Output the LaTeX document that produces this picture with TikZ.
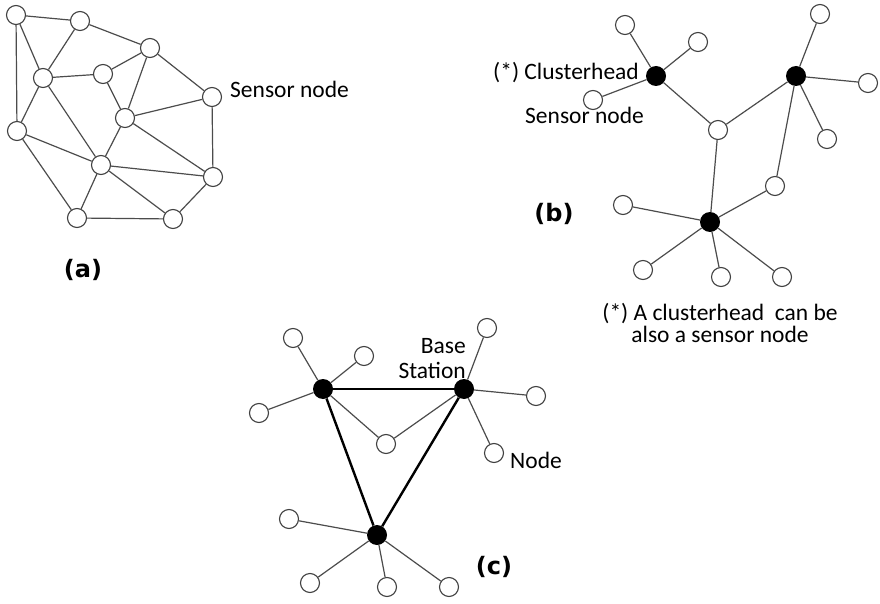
\documentclass[tikz,border=0pt]{standalone}
\usepackage{fontspec}
\setmainfont{Carlito}
\newfontfamily\labfont{DejaVu Sans}
\begin{document}
\begin{tikzpicture}[x=1pt,y=-1pt,
  sn/.style={circle,draw=black!75,line width=1.1pt,fill=white,minimum size=19pt,inner sep=0pt},
  ch/.style={circle,fill=black,minimum size=20pt,inner sep=0pt},
  ln/.style={draw=black!70,line width=1.2pt},
  tk/.style={draw=black,line width=2.4pt},
  lbl/.style={font=\fontsize{23.5}{22}\selectfont,inner sep=0pt},
  pl/.style={font=\labfont\bfseries\fontsize{24}{26}\selectfont,inner sep=0pt}]
\useasboundingbox (0,0) rectangle (880,604);
% ---------- (a) ----------
\node[sn] (a1) at (16,15) {};
\node[sn] (a2) at (80,21) {};
\node[sn] (a3) at (150,48) {};
\node[sn] (a4) at (43,78) {};
\node[sn] (a5) at (103,74) {};
\node[sn] (a6) at (212,97) {};
\node[sn] (a7) at (125,118) {};
\node[sn] (a8) at (17,131) {};
\node[sn] (a9) at (101,165) {};
\node[sn] (a10) at (213,177) {};
\node[sn] (a11) at (77,218) {};
\node[sn] (a12) at (173,219) {};
\foreach \u/\v in {a1/a2,a1/a4,a1/a8,a2/a4,a2/a3,a4/a5,a4/a8,a4/a9,a5/a3,a5/a7,a3/a7,a3/a6,a6/a7,a6/a10,a7/a9,a7/a10,a8/a9,a8/a11,a9/a10,a9/a11,a9/a12,a11/a12,a12/a10}
  \draw[ln] (\u) -- (\v);
\node[lbl,anchor=base west] (ta) at (230,98) {Sensor node};
\node[pl] (la) at (83,270) {(a)};
% ---------- (b) ----------
\node[ch] (h1) at (656,76) {};
\node[ch] (h2) at (796,76) {};
\node[ch] (h3) at (710,222) {};
\node[sn] (b1) at (625,25) {};
\node[sn] (b2) at (698,42) {};
\node[sn] (b3) at (593,100) {};
\node[sn] (b4) at (718,130) {};
\node[sn] (b5) at (820,14) {};
\node[sn] (b6) at (868,83) {};
\node[sn] (b7) at (827,139) {};
\node[sn] (b8) at (775,186) {};
\node[sn] (b9) at (623,205) {};
\node[sn] (b10) at (643,270) {};
\node[sn] (b11) at (721,277) {};
\node[sn] (b12) at (782,277) {};
\foreach \u/\v in {h1/b1,h1/b2,h1/b3,h1/b4,b4/h2,b4/h3,h2/b5,h2/b6,h2/b7,h2/b8,h3/b8,h3/b9,h3/b10,h3/b11,h3/b12}
  \draw[ln] (\u) -- (\v);
\node[lbl,anchor=base east] (tch) at (639,80) {(*) Clusterhead};
\node[lbl,anchor=base west] (tsn) at (525,124) {Sensor node};
\node[pl] (lb) at (554,214) {(b)};
\node[lbl,align=center,anchor=base] (tnote) at (720,342) {(*) A clusterhead ~can be\\also a sensor node};
% ---------- (c) ----------
\node[ch] (c1) at (323,389) {};
\node[ch] (c2) at (464,389) {};
\node[ch] (c3) at (377,535) {};
\node[sn] (c4) at (293,338) {};
\node[sn] (c5) at (364,356) {};
\node[sn] (c6) at (259,413) {};
\node[sn] (c7) at (386,444) {};
\node[sn] (c8) at (487,328) {};
\node[sn] (c9) at (536,396) {};
\node[sn] (c10) at (494,453) {};
\node[sn] (c11) at (289,519) {};
\node[sn] (c12) at (310,583) {};
\node[sn] (c13) at (387,587) {};
\node[sn] (c14) at (449,587) {};
\foreach \u/\v in {c1/c4,c1/c5,c1/c6,c1/c7,c2/c7,c2/c8,c2/c9,c2/c10,c3/c11,c3/c12,c3/c13,c3/c14}
  \draw[ln] (\u) -- (\v);
\draw[tk] (c1) -- (c2);
\draw[tk] (c1) -- (c3);
\draw[tk] (c2) -- (c3);
\node[lbl,align=right,anchor=base east,font=\fontsize{23.5}{25}\selectfont] (tbs) at (466,378) {Base\\Station};
\node[lbl,anchor=base west] (tnode) at (510,468) {Node};
\node[pl] (lc) at (494,567) {(c)};
\end{tikzpicture}
\end{document}
